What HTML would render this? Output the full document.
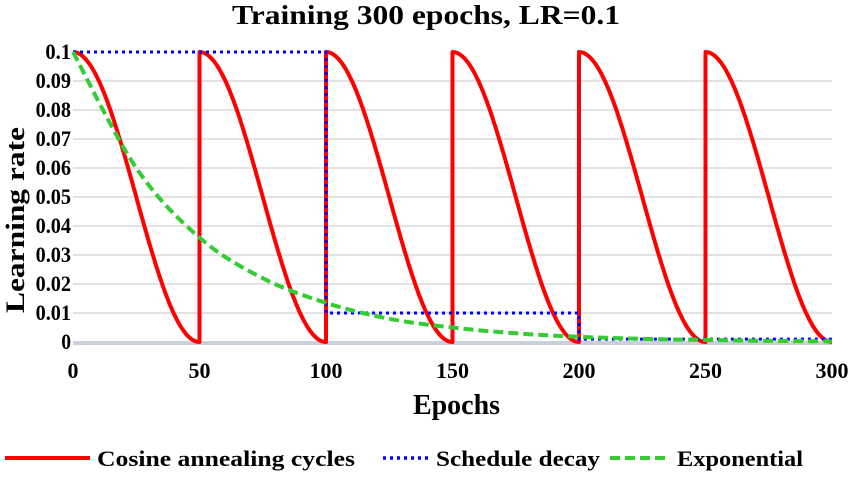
<!DOCTYPE html>
<html><head><meta charset="utf-8"><style>
body{margin:0;background:#fff}
text{font-family:"Liberation Serif",serif;font-weight:bold;fill:#000}
</style></head><body>
<svg id="chart" width="850" height="472" xmlns="http://www.w3.org/2000/svg">
<text x="232" y="24" textLength="388" lengthAdjust="spacingAndGlyphs" font-size="27">Training 300 epochs, LR=0.1</text>
<g id="grid"></g><g id="yticks"></g><g id="xticks"></g><g id="series"></g>
<text x="413" y="414" textLength="87" lengthAdjust="spacingAndGlyphs" font-size="28">Epochs</text>
<text transform="translate(24,220) rotate(-90)" text-anchor="middle" textLength="186" lengthAdjust="spacingAndGlyphs" font-size="26">Learning rate</text>
<g>
<line x1="5" y1="458" x2="90" y2="458" stroke="#f00" stroke-width="4"/>
<text x="97" y="466" textLength="258" lengthAdjust="spacingAndGlyphs" font-size="22">Cosine annealing cycles</text>
<line x1="383" y1="458" x2="430" y2="458" stroke="#00f" stroke-width="3.5" stroke-dasharray="3 4"/>
<text x="436" y="466" textLength="164" lengthAdjust="spacingAndGlyphs" font-size="22">Schedule decay</text>
<line x1="610" y1="458" x2="670" y2="458" stroke="#3c3" stroke-width="4" stroke-dasharray="10 5"/>
<text x="677" y="466" textLength="126" lengthAdjust="spacingAndGlyphs" font-size="22">Exponential</text>
</g>
</svg>
<script>
const yTicks=[0,0.01,0.02,0.03,0.04,0.05,0.06,0.07,0.08,0.09,0.1];
const yTickLabels=["0","0.01","0.02","0.03","0.04","0.05","0.06","0.07","0.08","0.09","0.1"];
const xTicks=[0,50,100,150,200,250,300];
const cosRestarts=[0,50,100,150,200,250];
const cosPeak=0.1;
const cosPeriod=50;
const stepStarts=[0,100,200];
const stepEnds=[100,200,300];
const stepValues=[0.1,0.01,0.001];
const expEpochs=[0,25,50,75,100,125,150,175,200,225,250,275,300];
const expValues=[0.1,0.06,0.036,0.022,0.0135,0.008,0.005,0.003,0.0018,0.0011,0.0007,0.0004,0.0002];
const NS="http://www.w3.org/2000/svg";
const X0=73,X1=832,Y0=342,Y1=52;
const xs=v=>X0+(v/300)*(X1-X0);
const ys=v=>Y0-(v/0.1)*(Y0-Y1);
function mk(tag,attrs,parent){const e=document.createElementNS(NS,tag);for(const k in attrs)e.setAttribute(k,attrs[k]);document.getElementById(parent).appendChild(e);return e;}
yTicks.forEach((t,i)=>{
 if(t>0&&t<0.1){const g=mk('line',{x1:X0,x2:X1,y1:ys(t),y2:ys(t),stroke:'#d9d9d9','stroke-width':1.5},'grid');
 
 }
 const lab=yTickLabels[i];
 const nd=lab.replace('.','').length, np=lab.length-nd;
 const l=mk('text',{x:71,y:ys(t)+7,'text-anchor':'end','font-size':22,textLength:nd*9.8+np*6,lengthAdjust:'spacingAndGlyphs'},'yticks');l.textContent=lab;
 
 
});
const ax=mk('line',{x1:X0,x2:X1,y1:Y0+1,y2:Y0+1,stroke:'#c8d0dc','stroke-width':4},'grid');


xTicks.forEach(t=>{const l=mk('text',{x:xs(t),y:378,'text-anchor':'middle','font-size':22},'xticks');l.textContent=t;
 
 });
let d='';
cosRestarts.forEach((s,ci)=>{for(let k=0;k<=100;k++){const t=k/100*cosPeriod;const v=cosPeak/2*(1+Math.cos(Math.PI*t/cosPeriod));d+=(k===0?(ci===0?'M':'L'):'L')+xs(s+t).toFixed(1)+','+ys(v).toFixed(1);}});
const c=mk('path',{d:d,fill:'none',stroke:'#f00','stroke-width':4,'stroke-linejoin':'round'},'series');


let sd='';
stepValues.forEach((v,i)=>{sd+=(i===0?'M':'L')+xs(stepStarts[i])+','+ys(v)+'L'+xs(stepEnds[i])+','+ys(v);});
const s=mk('path',{d:sd,fill:'none',stroke:'#00f','stroke-width':3,'stroke-dasharray':'3 4'},'series');


const P=expEpochs.map((e,i)=>[xs(e),ys(expValues[i])]);
let ed='M'+P[0][0]+','+P[0][1];
for(let i=0;i<P.length-1;i++){const p0=P[Math.max(0,i-1)],p1=P[i],p2=P[i+1],p3=P[Math.min(P.length-1,i+2)];
 ed+='C'+(p1[0]+(p2[0]-p0[0])/6)+','+(p1[1]+(p2[1]-p0[1])/6)+' '+(p2[0]-(p3[0]-p1[0])/6)+','+(p2[1]-(p3[1]-p1[1])/6)+' '+p2[0]+','+p2[1];}
const e=mk('path',{d:ed,fill:'none',stroke:'#3c3','stroke-width':4,'stroke-dasharray':'10 5'},'series');


</script>
</body></html>
